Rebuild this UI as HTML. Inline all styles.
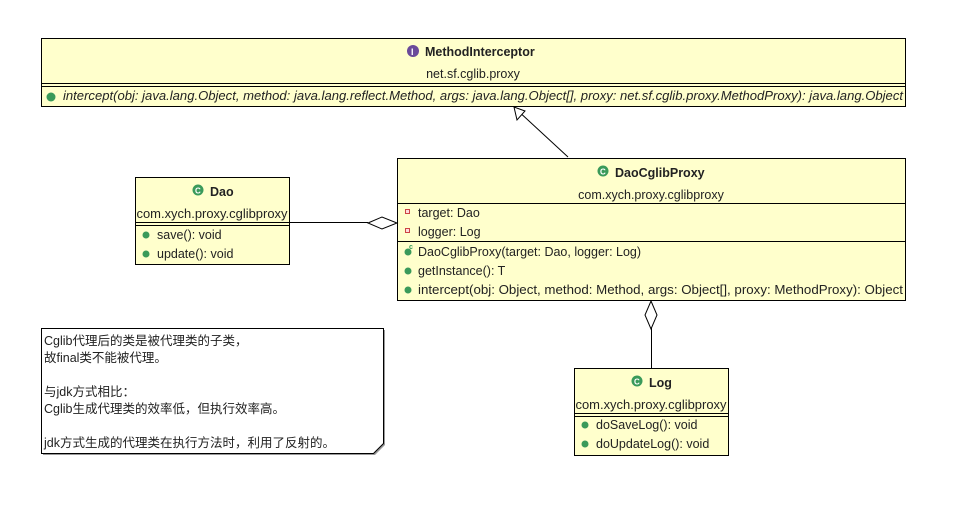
<!DOCTYPE html>
<html><head><meta charset="utf-8"><style>
html,body{margin:0;padding:0;background:#fff}
svg{display:block}
text{font-family:"Liberation Sans","Noto Sans CJK SC",sans-serif;font-size:12.5px;fill:#222}
.b{font-weight:bold}
</style></head><body>
<svg width="957" height="506" viewBox="0 0 957 506" xmlns="http://www.w3.org/2000/svg">
<!-- MethodInterceptor -->
<rect x="41.5" y="38.5" width="864" height="68" fill="#ffffcc" stroke="#000"/>
<line x1="41" y1="83.5" x2="906" y2="83.5" stroke="#000"/>
<line x1="41" y1="86.5" x2="906" y2="86.5" stroke="#000"/>
<circle cx="413" cy="51" r="6" fill="#6a4a9a"/><text x="411" y="55" style="font-size:9px;fill:#fff;font-weight:bold">I</text>
<text x="425" y="56" class="b">MethodInterceptor</text>
<text x="473" y="78" text-anchor="middle">net.sf.cglib.proxy</text>
<circle cx="51" cy="97" r="4.5" fill="#3a9a5a"/>
<text x="63" y="100" font-style="italic" textLength="840" lengthAdjust="spacingAndGlyphs">intercept(obj: java.lang.Object, method: java.lang.reflect.Method, args: java.lang.Object[], proxy: net.sf.cglib.proxy.MethodProxy): java.lang.Object</text>

<!-- generalization -->
<line x1="568" y1="157" x2="516" y2="109" stroke="#000"/>
<polygon points="514,107 517,120 525,111" fill="#fff" stroke="#000"/>

<!-- DaoCglibProxy -->
<rect x="397.5" y="158.5" width="508" height="142" fill="#ffffcc" stroke="#000"/>
<line x1="397" y1="203.5" x2="906" y2="203.5" stroke="#000"/>
<line x1="397" y1="241.5" x2="906" y2="241.5" stroke="#000"/>
<circle cx="603" cy="171" r="5.5" fill="#3a9a5a"/><text x="600" y="174.5" style="font-size:8px;font-weight:bold;fill:#fff">C</text>
<text x="615" y="177" class="b">DaoCglibProxy</text>
<text x="651" y="199" text-anchor="middle">com.xych.proxy.cglibproxy</text>
<rect x="405.5" y="209.5" width="4" height="4" fill="#fdd" stroke="#c44"/>
<text x="418" y="217">target: Dao</text>
<rect x="405.5" y="228.5" width="4" height="4" fill="#fdd" stroke="#c44"/>
<text x="418" y="236">logger: Log</text>
<circle cx="408" cy="252" r="3.5" fill="#3a9a5a"/><text x="409" y="249" style="font-size:7px;font-weight:bold;fill:#3a9a5a">c</text>
<text x="418" y="256">DaoCglibProxy(target: Dao, logger: Log)</text>
<circle cx="408" cy="271" r="3.5" fill="#3a9a5a"/>
<text x="418" y="275">getInstance(): T</text>
<circle cx="408" cy="290" r="3.5" fill="#3a9a5a"/>
<text x="418" y="294" textLength="485" lengthAdjust="spacingAndGlyphs">intercept(obj: Object, method: Method, args: Object[], proxy: MethodProxy): Object</text>

<!-- Dao -->
<rect x="135.5" y="177.5" width="154" height="87" fill="#ffffcc" stroke="#000"/>
<line x1="135" y1="222.5" x2="290" y2="222.5" stroke="#000"/>
<line x1="135" y1="225.5" x2="290" y2="225.5" stroke="#000"/>
<circle cx="198" cy="190" r="5.5" fill="#3a9a5a"/><text x="195" y="193.5" style="font-size:8px;font-weight:bold;fill:#fff">C</text>
<text x="210" y="196" class="b">Dao</text>
<text x="212" y="218" text-anchor="middle" textLength="151" lengthAdjust="spacingAndGlyphs">com.xych.proxy.cglibproxy</text>
<circle cx="146" cy="235" r="3.5" fill="#3a9a5a"/>
<text x="157" y="239">save(): void</text>
<circle cx="146" cy="254" r="3.5" fill="#3a9a5a"/>
<text x="157" y="258">update(): void</text>
<line x1="290" y1="222.5" x2="368" y2="222.5" stroke="#000"/>
<polygon points="368,223 382,217 397,223 382,229" fill="#fff" stroke="#000"/>

<!-- Log -->
<line x1="651.5" y1="328" x2="651.5" y2="368" stroke="#000"/>
<polygon points="651,301 657,315 651,329 645,315" fill="#fff" stroke="#000"/>
<rect x="574.5" y="368.5" width="154" height="87" fill="#ffffcc" stroke="#000"/>
<line x1="574" y1="413.5" x2="729" y2="413.5" stroke="#000"/>
<line x1="574" y1="416.5" x2="729" y2="416.5" stroke="#000"/>
<circle cx="637" cy="381" r="5.5" fill="#3a9a5a"/><text x="634" y="384.5" style="font-size:8px;font-weight:bold;fill:#fff">C</text>
<text x="649" y="387" class="b">Log</text>
<text x="651" y="409" text-anchor="middle" textLength="151" lengthAdjust="spacingAndGlyphs">com.xych.proxy.cglibproxy</text>
<circle cx="585" cy="425" r="3.5" fill="#3a9a5a"/>
<text x="596" y="429">doSaveLog(): void</text>
<circle cx="585" cy="444" r="3.5" fill="#3a9a5a"/>
<text x="596" y="448">doUpdateLog(): void</text>

<!-- Note -->
<polygon points="43,330 385,330 385,445 375,455 43,455" fill="#999"/>
<polygon points="41.5,328.5 383.5,328.5 383.5,443.5 373.5,453.5 41.5,453.5" fill="#fff" stroke="#000"/>
<text x="44" y="345">Cglib代理后的类是被代理类的子类，</text>
<text x="44" y="362">故final类不能被代理。</text>
<text x="44" y="396">与jdk方式相比：</text>
<text x="44" y="413">Cglib生成代理类的效率低，但执行效率高。</text>
<text x="44" y="447">jdk方式生成的代理类在执行方法时，利用了反射的。</text>
</svg>
</body></html>
